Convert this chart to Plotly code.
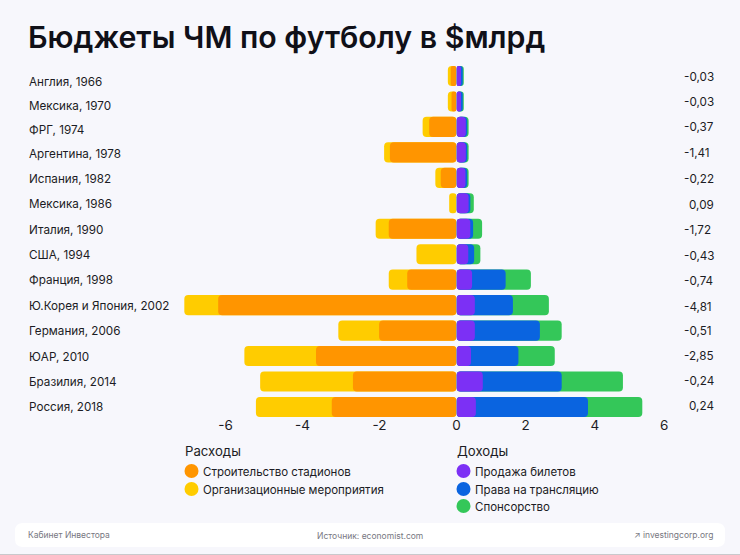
import plotly.graph_objects as go

W, H = 740, 555

title = "Бюджеты ЧМ по футболу в $млрд"
hosts = ["Англия, 1966", "Мексика, 1970", "ФРГ, 1974", "Аргентина, 1978", "Испания, 1982",
         "Мексика, 1986", "Италия, 1990", "США, 1994", "Франция, 1998", "Ю.Корея и Япония, 2002",
         "Германия, 2006", "ЮАР, 2010", "Бразилия, 2014", "Россия, 2018"]
stadiums = [0.15, 0.13, 0.71, 1.73, 0.41, 0.00, 1.76, 0.00, 1.28, 6.19, 2.01, 3.65, 2.69, 3.24]
organisation = [0.075, 0.095, 0.17, 0.15, 0.14, 0.19, 0.34, 1.04, 0.48, 0.88, 1.06, 1.86, 2.41, 1.97]
tickets = [0.13, 0.13, 0.27, 0.27, 0.26, 0.35, 0.40, 0.34, 0.45, 0.53, 0.53, 0.42, 0.76, 0.56]
broadcast = [0.05, 0.05, 0.04, 0.04, 0.05, 0.05, 0.08, 0.17, 0.97, 1.10, 1.88, 1.37, 2.28, 3.24]
sponsors = [0.03, 0.03, 0.04, 0.04, 0.04, 0.10, 0.26, 0.18, 0.73, 1.04, 0.63, 1.05, 1.77, 1.57]
net_labels = ["-0,03", "-0,03", "-0,37", "-1,41", "-0,22", "0,09", "-1,72", "-0,43",
              "-0,74", "-4,81", "-0,51", "-2,85", "-0,24", "0,24"]
neg_ticks = [-6, -4, -2, 0]
pos_ticks = [2, 4, 6]

ORANGE, YELLOW = "#FF9500", "#FFCC00"
PURPLE, BLUE, GREEN = "#7C30F5", "#0A64E0", "#34C759"
BG, INK = "#F7F7FC", "#1C1C24"
FONT = "Inter"

# pixel geometry
ZERO = 456.5
NEG_SCALE, POS_SCALE = 38.5, 34.6
ROW0, ROW_STEP = 76.0, 25.46
TOP, BOTTOM = 60, 419
label_px = [81.5, 106, 130, 154, 179, 204, 230, 255, 280, 306, 331, 357, 382, 407]
net_px = [76.7, 102, 127, 153, 179, 205, 230, 256, 281, 306.7, 331, 356, 381, 406]

def px(x): return x / W
def py(y): return 1 - y / H

def add(a, b): return [i + j for i, j in zip(a, b)]
def neg(a): return [-i for i in a]

exp_total = add(stadiums, organisation)
rev_mid = add(tickets, broadcast)
rev_total = add(rev_mid, sponsors)

fig = go.Figure()
def bar(vals, color, axis):
    # an explicit base makes plotly round both ends of the bar
    fig.add_trace(go.Bar(y=hosts, x=vals, base=[0] * len(vals), orientation="h",
                         marker=dict(color=color, line_width=0, cornerradius=4),
                         xaxis=axis, yaxis="y", showlegend=False, hoverinfo="skip"))
bar(neg(exp_total), YELLOW, "x")
bar(neg(stadiums), ORANGE, "x")
bar(rev_total, GREEN, "x2")
bar(rev_mid, BLUE, "x2")
bar(tickets, PURPLE, "x2")

tickfont = dict(family=FONT, size=13.5, color=INK)
axis_common = dict(showgrid=False, zeroline=False, showline=False, ticks="", tickfont=tickfont,
                   anchor="y", automargin=False, ticklabelstandoff=-4)
fig.update_layout(
    width=W, height=H, margin=dict(l=0, r=0, t=0, b=0),
    paper_bgcolor=BG, plot_bgcolor="rgba(0,0,0,0)", barmode="overlay", bargap=0.21,
    font=dict(family=FONT, color=INK), showlegend=False,
    xaxis=dict(domain=[0, px(ZERO)], range=[-ZERO / NEG_SCALE, 0], tickmode="array", tickvals=neg_ticks,
               ticktext=[str(t) for t in neg_ticks], **axis_common),
    xaxis2=dict(domain=[px(ZERO), 1], range=[0, (W - ZERO) / POS_SCALE], tickmode="array", tickvals=pos_ticks,
                ticktext=[str(t) for t in pos_ticks], **axis_common),
    yaxis=dict(domain=[py(BOTTOM), py(TOP)], range=[(BOTTOM - ROW0) / ROW_STEP, (TOP - ROW0) / ROW_STEP],
               type="category", categoryorder="array", categoryarray=hosts, showticklabels=False,
               showgrid=False, zeroline=False, showline=False, ticks="", automargin=False),
)

ann = []
def text(s, x, y, size, anchor="left", color=INK, weight=None):
    f = dict(family=FONT, size=size, color=color)
    if weight: f["weight"] = weight
    ann.append(dict(text=s, x=px(x), y=py(y), xref="paper", yref="paper", xanchor=anchor, yanchor="middle",
                    showarrow=False, font=f, borderpad=0))

text(title, 26.5, 37, 30.3, weight=600, color="#101018")
for name, y in zip(hosts, label_px):
    text(name, 27.5, y, 11.7)
for s, y in zip(net_labels, net_px):
    text(s, 683 if s.startswith("-") else 688, y, 11.7)

text("Расходы", 184, 451, 13.2)
text("Доходы", 456, 451, 13.2)
legend_left = [("Строительство стадионов", ORANGE, 471), ("Организационные мероприятия", YELLOW, 489)]
legend_right = [("Продажа билетов", PURPLE, 471), ("Права на трансляцию", BLUE, 489), ("Спонсорство", GREEN, 506)]

shapes = [
    dict(type="path", xref="paper", yref="paper", layer="below", line_width=0, fillcolor="#FFFFFF",
         path=f"M {px(23)} {py(523)} L {px(717)} {py(523)} Q {px(725)} {py(523)} {px(725)} {py(531)} "
              f"L {px(725)} {py(539)} Q {px(725)} {py(547)} {px(717)} {py(547)} L {px(23)} {py(547)} "
              f"Q {px(15)} {py(547)} {px(15)} {py(539)} L {px(15)} {py(531)} Q {px(15)} {py(523)} {px(23)} {py(523)} Z"),
    dict(type="rect", xref="paper", yref="paper", x0=0, x1=1, y0=py(555), y1=py(554), line_width=0, fillcolor="#C9C9CC"),
]
for items, cx, tx in ((legend_left, 191.5, 202), (legend_right, 463.5, 474)):
    for s, c, y in items:
        shapes.append(dict(type="circle", xref="paper", yref="paper", x0=px(cx - 7), x1=px(cx + 7),
                           y0=py(y + 7), y1=py(y - 7), line_width=0, fillcolor=c))
        text(s, tx, y + 0.7, 11.5)

text("Кабинет Инвестора", 27, 535, 8.5, color="#77777F")
text("Источник: economist.com", 370, 536, 8.5, anchor="center", color="#77777F")
text("↗ investingcorp.org", 714, 535, 8.5, anchor="right", color="#77777F")

fig.update_layout(annotations=ann, shapes=shapes)
fig.write_html("out.html", config={"displayModeBar": False}, post_script="document.body.style.margin='0';")
